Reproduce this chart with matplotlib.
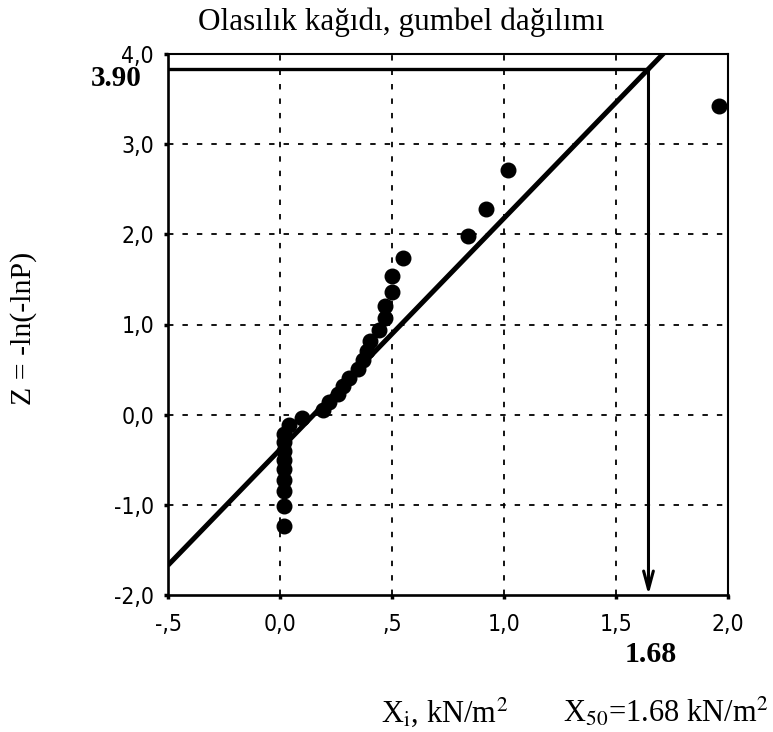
import matplotlib
matplotlib.use("Agg")
import matplotlib.pyplot as plt
import numpy as np
from matplotlib import font_manager

# ---- data ----
x_obs = [0.02, 0.02, 0.02, 0.02, 0.02, 0.02, 0.02, 0.02, 0.02, 0.04,
         0.10, 0.19, 0.22, 0.26, 0.28, 0.31, 0.35, 0.37, 0.39, 0.40,
         0.44, 0.47, 0.47, 0.50, 0.50, 0.55, 0.84, 0.92, 1.02, 1.96]
z_obs = [-1.23, -1.01, -0.85, -0.72, -0.60, -0.50, -0.40, -0.30, -0.21, -0.12,
         -0.04, 0.05, 0.14, 0.23, 0.32, 0.41, 0.51, 0.61, 0.71, 0.82,
         0.94, 1.07, 1.21, 1.36, 1.54, 1.74, 1.98, 2.28, 2.71, 3.42]
fit_intercept = -0.387
fit_slope = 2.566
x50_drawn = 1.645
z50_drawn = 3.83
xticks = [-0.5, 0.0, 0.5, 1.0, 1.5, 2.0]
xtick_labels = ["-,5", "0,0", ",5", "1,0", "1,5", "2,0"]
yticks = [-2.0, -1.0, 0.0, 1.0, 2.0, 3.0, 4.0]
ytick_labels = ["-2,0", "-1,0", "0,0", "1,0", "2,0", "3,0", "4,0"]

W, H = 773, 732
fig = plt.figure(figsize=(W / 100, H / 100), dpi=100)
plt.rcParams["mathtext.fontset"] = "stix"

def fx(px):
    return px / W

def fy(py):
    return 1 - py / H

ax = fig.add_axes([fx(168), fy(595), (728 - 168) / W, (595 - 54) / H])
ax.set_xlim(-0.5, 2.0)
ax.set_ylim(-2.0, 4.0)

serif = ["Liberation Serif", "DejaVu Serif"]
tick_fp = font_manager.FontProperties(family="DejaVu Sans",
                                      stretch="condensed", size=16.5)

ax.set_xticks(xticks)
ax.set_xticklabels(xtick_labels, fontproperties=tick_fp)
ax.set_yticks(yticks)
ax.set_yticklabels(ytick_labels, fontproperties=tick_fp)
ax.tick_params(axis="x", direction="out", length=3, width=2.5, pad=10)
ax.tick_params(axis="y", direction="out", length=3, width=2.5, pad=7)

for name, s in ax.spines.items():
    s.set_linewidth(1.9 if name in ("left", "bottom") else 1.5)
    s.set_color("black")

# dashed grid
for xv in xticks[1:-1]:
    ax.axvline(xv, color="black", lw=1.3, ls=(0, (3.0, 5.0)), zorder=1)
for yv in yticks[1:-1]:
    ax.axhline(yv, color="black", lw=1.3, ls=(0, (3.0, 5.0)), zorder=1)

# fitted line
xl = np.array([-0.5, 2.0])
ax.plot(xl, fit_intercept + fit_slope * xl, color="black", lw=3.6,
        solid_capstyle="butt", zorder=3)

# observations
ax.scatter(x_obs, z_obs, s=110, color="black", zorder=4, clip_on=False)

# 3.90 horizontal and arrow down to x axis
ax.plot([-0.5, x50_drawn], [z50_drawn, z50_drawn], color="black", lw=2.4,
        zorder=3)
ax.annotate("", xy=(x50_drawn, -2.0), xytext=(x50_drawn, z50_drawn),
            arrowprops=dict(arrowstyle="->,head_length=1.3,head_width=0.35",
                            lw=2.2, color="black", shrinkA=0, shrinkB=0),
            zorder=3)

# texts
fig.text(fx(401), fy(22), "Olasılık kağıdı, gumbel dağılımı", family=serif,
         fontsize=22.5, ha="center", va="center")
fig.text(fx(24), fy(328), "Z = -ln(-lnP)", family=serif, fontsize=21.5,
         rotation=90, ha="center", va="center")
fig.text(fx(116), fy(79), "3.90", family=serif, fontsize=21,
         fontweight="bold", ha="center", va="center")
fig.text(fx(651), fy(655), "1.68", family=serif, fontsize=21.5,
         fontweight="bold", ha="center", va="center")
fig.text(fx(445), fy(712), r"X$_\mathrm{i}$, kN/m$^2$", family=serif,
         fontsize=22, ha="center", va="center")
fig.text(fx(666), fy(712), r"X$_{50}$=1.68 kN/m$^2$", family=serif,
         fontsize=22, ha="center", va="center")

fig.savefig("out.png", dpi=100)
